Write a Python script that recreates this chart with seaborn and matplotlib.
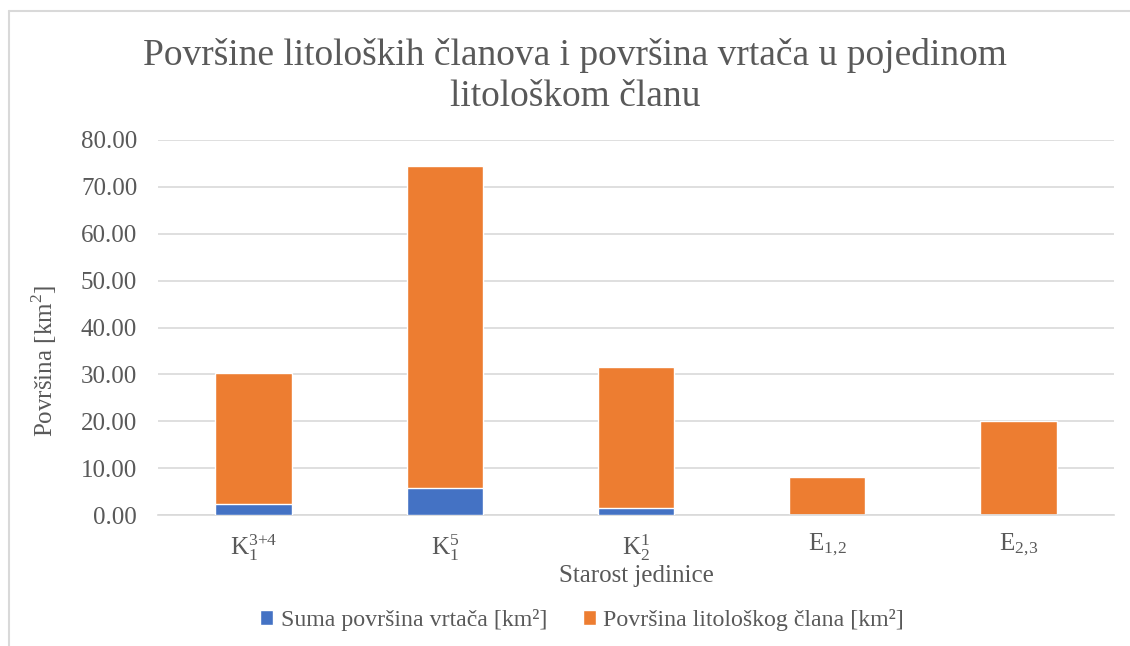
import numpy as np
import matplotlib
matplotlib.use("Agg")
import matplotlib.pyplot as plt
import seaborn as sns
import pandas as pd
from matplotlib.lines import Line2D
from matplotlib.patches import Patch

# data
units = [r"$\mathregular{K_1^{3{+}4}}$", r"$\mathregular{K_1^{5}}$", r"$\mathregular{K_2^{1}}$",
         r"$\mathregular{E_{1,\!2}}$", r"$\mathregular{E_{2,\!3}}$"]
sinkholes = [2.3, 5.7, 1.6, 0.1, 0.1]      # Suma površina vrtača [km²]
lithology = [28.1, 68.8, 29.9, 8.1, 19.9]  # Površina litološkog člana [km²]

blue = "#4472C4"
orange = "#ED7D31"
txt = "#595959"
grid = "#D9D9D9"

sns.set_style("white")
plt.rcParams["font.family"] = ["Liberation Serif", "DejaVu Serif"]
plt.rcParams["mathtext.fontset"] = "custom"
plt.rcParams["mathtext.rm"] = "Liberation Serif"

df = pd.DataFrame({"unit": units, "sink": sinkholes, "lith": lithology})
df["total"] = df["sink"] + df["lith"]

fig = plt.figure(figsize=(11.3, 6.46), dpi=100)
ax = fig.add_axes([158/1130, 131/646, 956/1130, 375/646])

sns.barplot(data=df, x="unit", y="total", color=orange, width=0.4, saturation=1, ax=ax, zorder=2)
sns.barplot(data=df, x="unit", y="sink", color=blue, width=0.4, saturation=1, ax=ax, zorder=3)

ax.set_ylim(0, 80)
ax.set_yticks(np.arange(0, 81, 10))
ax.set_yticklabels([f"{v:.2f}" for v in np.arange(0, 81, 10)])
ax.yaxis.grid(True, color=grid, linewidth=1.2, zorder=0)
ax.set_axisbelow(True)
for s in ["top", "right", "left"]:
    ax.spines[s].set_visible(False)
ax.spines["bottom"].set_color(grid)
ax.spines["bottom"].set_linewidth(1.2)
ax.tick_params(axis="both", length=0, labelsize=18, colors=txt)
ax.tick_params(axis="y", pad=15)
ax.tick_params(axis="x", pad=12)

ax.set_xlabel("Starost jedinice", fontsize=18, color=txt, labelpad=2)
ax.set_ylabel("Površina [km$^2$]", fontsize=18, color=txt)
ax.yaxis.set_label_coords(-0.104, 0.41)

fig.text(575/1130, 1 - 76/646, "Površine litoloških članova i površina vrtača u pojedinom\nlitološkom članu",
         ha="center", va="center", fontsize=27, color=txt, linespacing=1.25)

handles = [Patch(facecolor=blue), Patch(facecolor=orange)]
fig.legend(handles, ["Suma površina vrtača [km²]", "Površina litološkog člana [km²]"],
           loc="center", bbox_to_anchor=(582/1130, 1 - 620/646), ncol=2, frameon=False,
           fontsize=17.2, labelcolor=txt, handlelength=0.55, handleheight=0.55,
           handletextpad=0.3, columnspacing=1.5)

# outer chart frame
fig.add_artist(Line2D([9/1130, 1], [1 - 11/646, 1 - 11/646], color=grid, linewidth=1.5))
fig.add_artist(Line2D([9/1130, 9/1130], [0, 1 - 11/646], color=grid, linewidth=1.5))

fig.savefig("out.png", dpi=100)
